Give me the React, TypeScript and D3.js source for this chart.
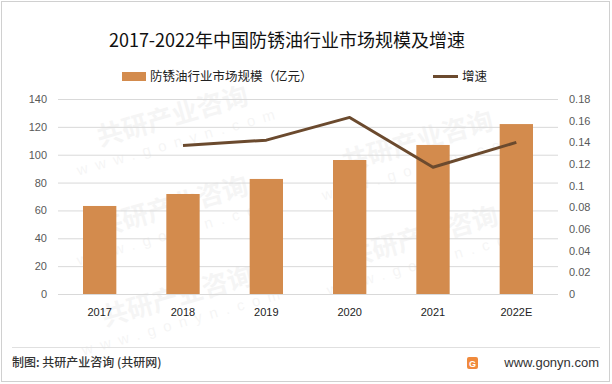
import * as d3 from 'd3';

const years = ['2017', '2018', '2019', '2020', '2021', '2022E'];
const marketSize = [63.2, 71.8, 82.6, 96.2, 107, 122];
const growthYears = ['2018', '2019', '2020', '2021', '2022E'];
const growthRate = [0.137, 0.142, 0.163, 0.117, 0.14];
const leftTicks = [0, 20, 40, 60, 80, 100, 120, 140];
const rightTicks = [0, 0.02, 0.04, 0.06, 0.08, 0.1, 0.12, 0.14, 0.16, 0.18];

const W = 612;
const H = 384;
const plot = { left: 58, right: 558, top: 99, bottom: 294 };
const barColor = '#D38B4D';
const lineColor = '#6B4A2E';
const font = '"Liberation Sans", "Noto Sans CJK SC", sans-serif';
const cjk = '"Noto Sans CJK SC", sans-serif';

// faint watermark tiles, kept inside the plot area
const marks = [
  [175, 125], [175, 215], [180, 305], [420, 150], [425, 245],
];

export default function App() {
  const x = d3.scaleBand().domain(years).range([plot.left, plot.right]).paddingInner(0.6).paddingOuter(0.3);
  const yL = d3.scaleLinear().domain([0, 140]).range([plot.bottom, plot.top]);
  const yR = d3.scaleLinear().domain([0, 0.18]).range([plot.bottom, plot.top]);
  const cx = (k: string) => (x(k) as number) + x.bandwidth() / 2;

  const line = d3
    .line<number>()
    .x((_, i) => cx(growthYears[i]))
    .y((d) => yR(d));

  return (
    <svg width={W} height={H} style={{ position: 'absolute', left: 0, top: 0, background: '#fff' }}>
      <rect x={1.5} y={1.5} width={W - 4} height={H - 4} fill="#fff" stroke="#d0d0d0" />
      {marks.map(([mx, my], i) => (
        <g key={i} transform={`translate(${mx},${my}) rotate(-16)`} fill="#000" opacity={0.035}>
          <text textAnchor="middle" fontFamily={cjk} fontWeight="bold" fontSize={26}>
            共研产业咨询
          </text>
          <text y={22} textAnchor="middle" fontFamily={font} fontSize={15} letterSpacing={8}>
            www.gonyn.com
          </text>
        </g>
      ))}
      <text x={287} y={47} textAnchor="middle" fontFamily={cjk} fontSize={18} fill="#111">
        2017-2022年中国防锈油行业市场规模及增速
      </text>
      <rect x={122} y={72} width={24} height={9} fill={barColor} />
      <text x={150} y={81} fontFamily={cjk} fontSize={12.5} fill="#222">
        防锈油行业市场规模（亿元）
      </text>
      <line x1={433} x2={458} y1={76.5} y2={76.5} stroke={lineColor} strokeWidth={3} />
      <text x={462} y={81} fontFamily={cjk} fontSize={12.5} fill="#222">
        增速
      </text>
      {leftTicks.map((t) => (
        <g key={t}>
          <line x1={plot.left} x2={plot.right} y1={yL(t) + 0.5} y2={yL(t) + 0.5} stroke="#d9d9d9" />
          <text x={47} y={yL(t) + 4} textAnchor="end" fontFamily={font} fontSize={11} fill="#595959">
            {t}
          </text>
        </g>
      ))}
      {rightTicks.map((t) => (
        <text key={t} x={569} y={yR(t) + 4} fontFamily={font} fontSize={11} fill="#595959">
          {d3.format('~g')(t)}
        </text>
      ))}
      {years.map((k, i) => (
        <g key={k}>
          <rect x={x(k)} y={yL(marketSize[i])} width={x.bandwidth()} height={plot.bottom - yL(marketSize[i])} fill={barColor} />
          <text x={cx(k)} y={316} textAnchor="middle" fontFamily={font} fontSize={11} fill="#222">
            {k}
          </text>
        </g>
      ))}
      <path d={line(growthRate) ?? ''} fill="none" stroke={lineColor} strokeWidth={3} strokeLinejoin="round" />
      <line x1={12} x2={600} y1={347.5} y2={347.5} stroke="#e0e0e0" />
      <text x={12} y={367} fontFamily={cjk} fontSize={12} fontWeight={500} fill="#333">
        制图: 共研产业咨询 (共研网)
      </text>
      <rect x={467} y={357} width={11} height={12} rx={2} fill="#F08A3C" />
      <text x={472.5} y={367} textAnchor="middle" fontFamily={font} fontSize={9} fontWeight="bold" fill="#fff">
        G
      </text>
      <text x={599} y={367} textAnchor="end" fontFamily={font} fontSize={13} fill="#333">
        www.gonyn.com
      </text>
    </svg>
  );
}
